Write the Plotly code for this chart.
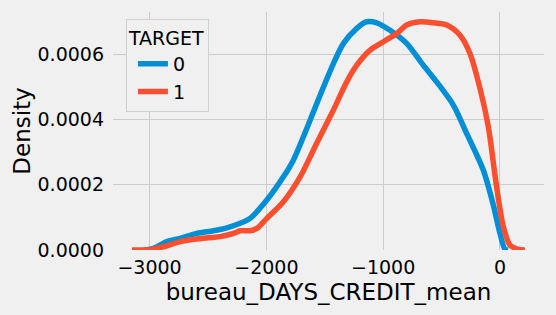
import plotly.graph_objects as go

# ---- data ----
target0_x = [-3050, -2966, -2852, -2738, -2595, -2453, -2339, -2224, -2139, -1996,
             -1854, -1768, -1654, -1540, -1426, -1340, -1226, -1141, -1055, -941,
             -799, -656, -542, -399, -285, -143, -57, 0, 43, 71]
target0_y = [0, 0.000005, 0.0000255, 0.0000357, 0.000051, 0.000059, 0.000068, 0.000082,
             0.000097, 0.000153, 0.000224, 0.000276, 0.000372, 0.000474, 0.000571,
             0.000633, 0.000679, 0.000699, 0.000696, 0.000673, 0.000633, 0.000566,
             0.000515, 0.000444, 0.000357, 0.000245, 0.000138, 0.000051, 0.000002, 0]

target1_x = [-3151, -2995, -2880, -2738, -2567, -2396, -2282, -2224, -2139, -2082,
             -1996, -1854, -1711, -1569, -1426, -1312, -1226, -1112, -998, -884,
             -799, -684, -570, -456, -342, -257, -171, -100, -29, 29, 86, 157, 214]
target1_y = [0, 0.000001, 0.00001, 0.0000255, 0.0000347, 0.000041, 0.000051, 0.000059,
             0.000059, 0.000066, 0.000097, 0.000148, 0.000224, 0.000327, 0.000429,
             0.000515, 0.000566, 0.000612, 0.000638, 0.000663, 0.000689, 0.000699,
             0.000696, 0.000689, 0.000658, 0.000602, 0.000495, 0.000378, 0.000194,
             0.000071, 0.000015, 0.000002, 0]

series_names = ["0", "1"]
x_tickvals = [-3000, -2000, -1000, 0]
x_ticktext = ["\u22123000", "\u22122000", "\u22121000", "0"]
y_tickvals = [0, 0.0002, 0.0004, 0.0006]
y_ticktext = ["0.0000", "0.0002", "0.0004", "0.0006"]

x_title = "bureau_DAYS_CREDIT_mean"
y_title = "Density"
legend_title = "TARGET"

BG = "#f0f0f0"
GRID = "#cbcbcb"
FONT = "DejaVu Sans"

fig = go.Figure()
fig.add_trace(go.Scatter(x=target0_x, y=target0_y, mode="lines", name=series_names[0],
                         line=dict(color="#008fd5", width=5.5, shape="spline", smoothing=0.8)))
fig.add_trace(go.Scatter(x=target1_x, y=target1_y, mode="lines", name=series_names[1],
                         line=dict(color="#fc4f30", width=5.5, shape="spline", smoothing=0.8)))

fig.update_layout(
    width=556, height=315,
    margin=dict(l=113, r=12, t=12, b=65),
    paper_bgcolor=BG, plot_bgcolor=BG,
    font=dict(family=FONT, size=19, color="black"),
    showlegend=True,
    legend=dict(
        title=dict(text=legend_title, side="top", font=dict(size=19)),
        x=0.03, y=0.97, xanchor="left", yanchor="top",
        bgcolor=BG, bordercolor="#d0d0d0", borderwidth=1,
        font=dict(size=19),
        indentation=6,
    ),
    xaxis=dict(
        range=[-3313, 377],
        tickvals=x_tickvals, ticktext=x_ticktext,
        showgrid=True, gridcolor=GRID, gridwidth=1,
        zeroline=False, showline=False,
        ticks="", ticklabelstandoff=4,
        title=dict(text=x_title, font=dict(size=23), standoff=6),
    ),
    yaxis=dict(
        range=[0, 0.000729],
        tickvals=y_tickvals, ticktext=y_ticktext,
        showgrid=True, gridcolor=GRID, gridwidth=1,
        zeroline=False, showline=False,
        ticks="", ticklabelstandoff=8,
        title=dict(text=y_title, font=dict(size=23), standoff=0),
    ),
)

fig.write_html("out.html")
